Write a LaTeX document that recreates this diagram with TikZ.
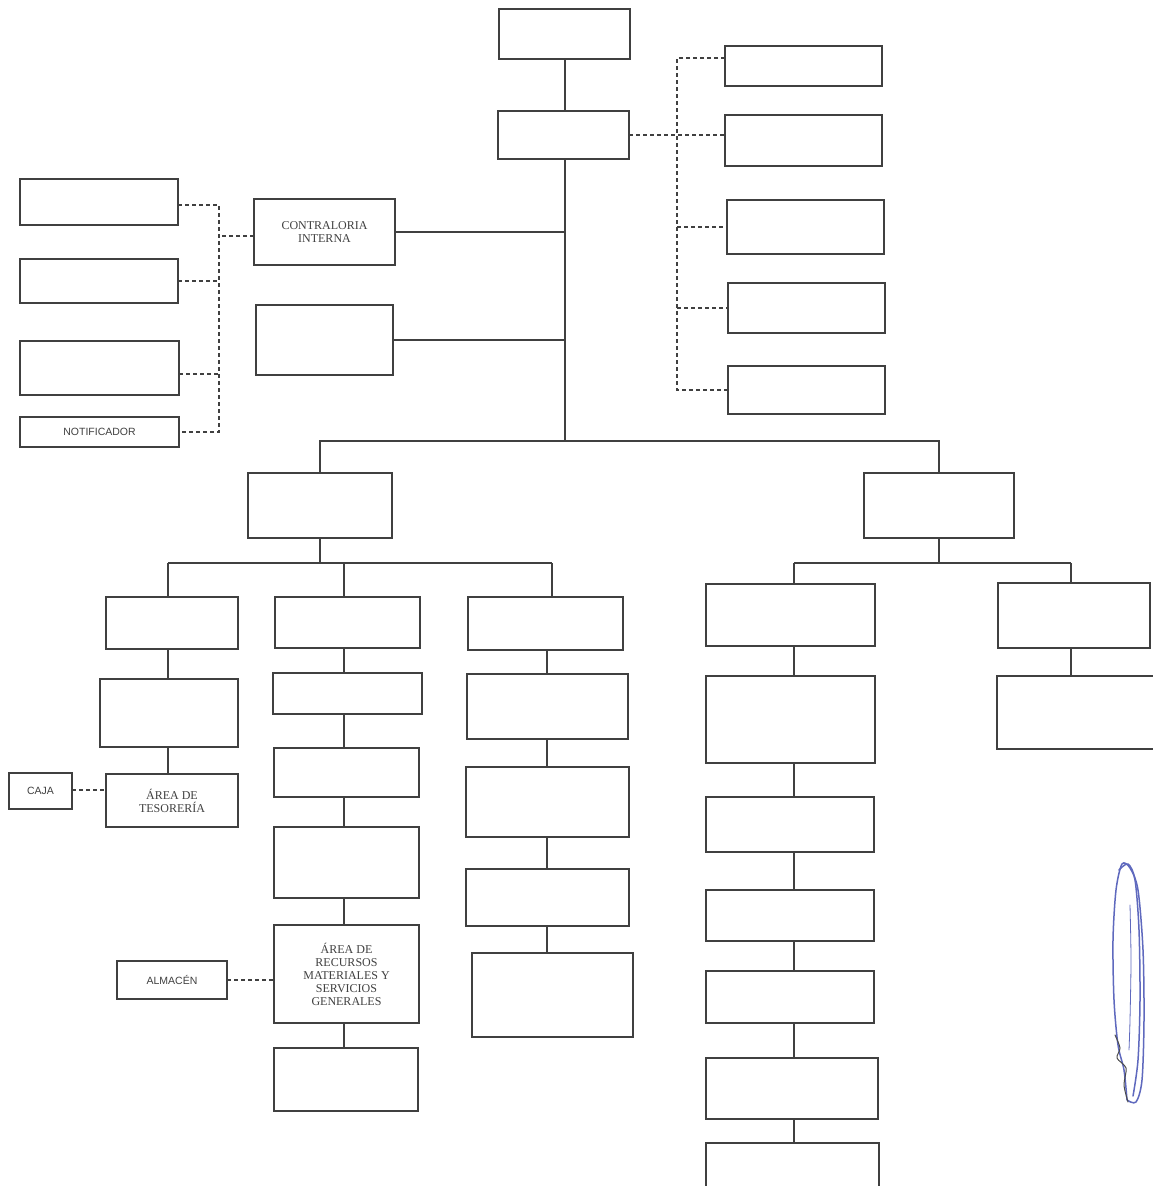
\documentclass[tikz,border=0pt]{standalone}
\usepackage{fontspec}
\setmainfont{Liberation Serif}
\setsansfont{Liberation Sans}
\definecolor{penblue}{RGB}{95,105,190}
\tikzset{
  box/.style={draw=black!75, line width=1.6pt, rectangle, inner sep=1pt, outer sep=0pt, align=center, text=black!75},
  stxt/.style={font=\fontsize{12}{13}\selectfont},
  sans/.style={font=\sffamily\fontsize{10.5}{12}\selectfont},
  ln/.style={draw=black!75, line width=1.5pt},
  dsh/.style={draw=black!75, line width=1.6pt, dash pattern=on 4pt off 3pt},
  pen/.style={draw=penblue, line width=1.5pt, line cap=round, line join=round}
}
\newcommand{\obox}[7][]{\node[box,#1,minimum width={(#5-#3)*1pt},minimum height={(#6-#4)*1pt}] (#2) at ({(#3+#5)/2},{(#4+#6)/2}) {#7};}
\begin{document}
\begin{tikzpicture}[x=1pt,y=-1pt]
\useasboundingbox (0,0) rectangle (1153,1186);
\clip (0,0) rectangle (1153,1186);
\fill[white] (0,0) rectangle (1153,1186);
% top
\obox{A0}{499}{9}{630}{59}{}
\obox{A1}{498}{111}{629}{159}{}
% right dashed group
\obox{R1}{725}{46}{882}{86}{}
\obox{R2}{725}{115}{882}{166}{}
\obox{R3}{727}{200}{884}{254}{}
\obox{R4}{728}{283}{885}{333}{}
\obox{R5}{728}{366}{885}{414}{}
% left
\obox{L1}{20}{179}{178}{225}{}
\obox{L2}{20}{259}{178}{303}{}
\obox{L3}{20}{341}{179}{395}{}
\obox[sans]{L4}{20}{417}{179}{447}{NOTIFICADOR}
\obox[stxt]{C}{254}{199}{395}{265}{CONTRALORIA\\INTERNA}
\obox{B}{256}{305}{393}{375}{}
% level 2
\obox{LL}{248}{473}{392}{538}{}
\obox{RR}{864}{473}{1014}{538}{}
% left subtree columns
\obox{T1a}{106}{597}{238}{649}{}
\obox{T1b}{100}{679}{238}{747}{}
\obox[stxt]{T1c}{106}{774}{238}{827}{ÁREA DE\\TESORERÍA}
\obox[sans]{CAJA}{9}{773}{72}{809}{CAJA}
\obox{T2a}{275}{597}{420}{648}{}
\obox{T2b}{273}{673}{422}{714}{}
\obox{T2c}{274}{748}{419}{797}{}
\obox{T2d}{274}{827}{419}{898}{}
\obox[stxt]{T2e}{274}{925}{419}{1023}{ÁREA DE\\RECURSOS\\MATERIALES Y\\SERVICIOS\\GENERALES}
\obox{T2f}{274}{1048}{418}{1111}{}
\obox[sans]{ALM}{117}{961}{227}{999}{ALMACÉN}
\obox{T3a}{468}{597}{623}{650}{}
\obox{T3b}{467}{674}{628}{739}{}
\obox{T3c}{466}{767}{629}{837}{}
\obox{T3d}{466}{869}{629}{926}{}
\obox{T3e}{472}{953}{633}{1037}{}
% right subtree
\obox{Ra}{706}{584}{875}{646}{}
\obox{Ra2}{706}{676}{875}{763}{}
\obox{Ra3}{706}{797}{874}{852}{}
\obox{Ra4}{706}{890}{874}{941}{}
\obox{Ra5}{706}{971}{874}{1023}{}
\obox{Ra6}{706}{1058}{878}{1119}{}
\obox{Ra7}{706}{1143}{879}{1196}{}
\obox{Rb}{998}{583}{1150}{648}{}
\obox{Rb2}{997}{676}{1162}{749}{}
% coordinates
\coordinate (hub) at (565,441);
\coordinate (dl) at (219,0);
\coordinate (dr) at (677,0);
\coordinate (lb) at (0,563);
\coordinate (c1) at (168,0);
\coordinate (c2) at (344,0);
\coordinate (c3) at (552,0);
\coordinate (c3b) at (547,0);
\coordinate (ca) at (794,0);
\coordinate (cb) at (1071,0);
% trunk
\draw[ln] (A0.south -| hub) -- (A1.north -| hub);
\draw[ln] (A1.south -| hub) -- (hub);
\draw[ln] (C.east) -- (C.east -| hub);
\draw[ln] (B.east) -- (B.east -| hub);
\draw[ln] (LL.north) -- (LL.north |- hub) -- (RR.north |- hub) -- (RR.north);
% right dashed
\draw[dsh] ([yshift=8pt]R1.west) -- ([yshift=8pt]R1.west -| dr) -- (R5.west -| dr) -- (R5.west);
\draw[dsh] (A1.east) -- (A1.east -| R2.west);
\draw[dsh] (R3.west -| dr) -- (R3.west);
\draw[dsh] (R4.west -| dr) -- (R4.west);
% left dashed
\draw[dsh] ([yshift=-3pt]L1.east) -- ([yshift=-3pt]L1.east -| dl) -- (L4.east -| dl) -- (L4.east);
\draw[dsh] (L2.east) -- (L2.east -| dl);
\draw[dsh] ([yshift=-6pt]L3.east) -- ([yshift=-6pt]L3.east -| dl);
\draw[dsh] ([yshift=-4pt]C.west) -- ([yshift=-4pt]C.west -| dl);
% left subtree
\draw[ln] (LL.south) -- (LL.south |- lb);
\draw[ln] (c1 |- lb) -- (c3 |- lb);
\draw[ln] (c1 |- lb) -- (c1 |- T1a.north);
\draw[ln] (c2 |- lb) -- (c2 |- T2a.north);
\draw[ln] (c3 |- lb) -- (c3 |- T3a.north);
\draw[ln] (c1 |- T1a.south) -- (c1 |- T1b.north);
\draw[ln] (c1 |- T1b.south) -- (c1 |- T1c.north);
\draw[dsh] ([yshift=1pt]CAJA.east) -- ([yshift=1pt]CAJA.east -| T1c.west);
\draw[ln] (c2 |- T2a.south) -- (c2 |- T2b.north);
\draw[ln] (c2 |- T2b.south) -- (c2 |- T2c.north);
\draw[ln] (c2 |- T2c.south) -- (c2 |- T2d.north);
\draw[ln] (c2 |- T2d.south) -- (c2 |- T2e.north);
\draw[ln] (c2 |- T2e.south) -- (c2 |- T2f.north);
\draw[dsh] (ALM.east) -- (ALM.east -| T2e.west);
\draw[ln] (c3b |- T3a.south) -- (c3b |- T3b.north);
\draw[ln] (c3b |- T3b.south) -- (c3b |- T3c.north);
\draw[ln] (c3b |- T3c.south) -- (c3b |- T3d.north);
\draw[ln] (c3b |- T3d.south) -- (c3b |- T3e.north);
% right subtree
\draw[ln] (RR.south) -- (RR.south |- lb);
\draw[ln] (ca |- lb) -- (cb |- lb);
\draw[ln] (ca |- lb) -- (ca |- Ra.north);
\draw[ln] (cb |- lb) -- (cb |- Rb.north);
\draw[ln] (cb |- Rb.south) -- (cb |- Rb2.north);
\draw[ln] (ca |- Ra.south) -- (ca |- Ra2.north);
\draw[ln] (ca |- Ra2.south) -- (ca |- Ra3.north);
\draw[ln] (ca |- Ra3.south) -- (ca |- Ra4.north);
\draw[ln] (ca |- Ra4.south) -- (ca |- Ra5.north);
\draw[ln] (ca |- Ra5.south) -- (ca |- Ra6.north);
\draw[ln] (ca |- Ra6.south) -- (ca |- Ra7.north);
% pen mark
\draw[pen] plot[smooth] coordinates {(1127,1100) (1124,1070) (1118,1045) (1114,1000) (1113,940) (1116,890) (1122,864) (1130,868) (1138,890) (1143,950) (1144,1020) (1142,1080) (1136,1102) (1127,1100)};
\draw[pen] plot[smooth] coordinates {(1119,870) (1128,864) (1135,880) (1139,930) (1140,1000) (1138,1060) (1133,1096)};
\draw[pen, line width=0.8pt] plot[smooth] coordinates {(1130,905) (1131,960) (1130,1020) (1129,1050)};
\draw[pen, draw=black!70, line width=1pt] plot[smooth] coordinates {(1115,1035) (1120,1048) (1117,1058) (1126,1068) (1124,1085) (1128,1102)};
\end{tikzpicture}
\end{document}
